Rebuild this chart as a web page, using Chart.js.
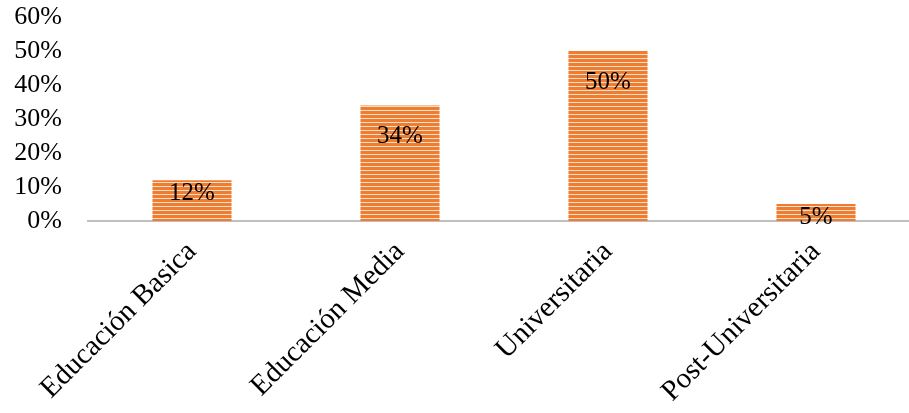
<!DOCTYPE html>
<html>
<head>
<meta charset="utf-8">
<script src="https://cdn.jsdelivr.net/npm/chart.js@4"></script>
<style>
    html, body { margin: 0; padding: 0; background: #fff; overflow: hidden; }
    #wrap { width: 920px; height: 413px; }
</style>
</head>
<body>
<div id="wrap"><canvas id="nivelChart"></canvas></div>
<script>
// datos del gráfico
const categorias = ['Educación Basica', 'Educación Media', 'Universitaria', 'Post-Universitaria'];
const porcentajes = [12, 34, 50, 5];
const ticksY = [0, 10, 20, 30, 40, 50, 60];

// patrón de rayas horizontales para las barras
function crearRayas() {
    const c = document.createElement('canvas');
    c.width = 4;
    c.height = 4;
    const g = c.getContext('2d');
    g.fillStyle = '#ED7D31';
    g.fillRect(0, 0, 4, 4);
    g.fillStyle = '#FBDCC6';
    g.fillRect(0, 2, 4, 1);
    return g.createPattern(c, 'repeat');
}

// etiquetas de datos dentro de la barra
const etiquetasPlugin = {
    id: 'etiquetas',
    afterDatasetsDraw(chart) {
        const ctx = chart.ctx;
        const meta = chart.getDatasetMeta(0);
        ctx.save();
        ctx.font = '25px "Liberation Serif", "Times New Roman", serif';
        ctx.fillStyle = '#000';
        ctx.textAlign = 'center';
        ctx.textBaseline = 'middle';
        meta.data.forEach(function(bar, i) {
            const alto = bar.base - bar.y;
            const desp = alto > 60 ? 31 : 13;
            ctx.fillText(porcentajes[i] + '%', bar.x, bar.y + desp);
        });
        ctx.restore();
    }
};

const serif = '"Liberation Serif", "Times New Roman", serif';

const ctx = document.getElementById('nivelChart').getContext('2d');
new Chart(ctx, {
    type: 'bar',
    data: {
        labels: categorias,
        datasets: [{
            data: porcentajes,
            backgroundColor: crearRayas(),
            borderWidth: 0,
            barPercentage: 0.38,
            categoryPercentage: 1
        }]
    },
    options: {
        responsive: true,
        maintainAspectRatio: false,
        animation: false,
        layout: { padding: 0 },
        plugins: {
            legend: { display: false },
            tooltip: { enabled: false }
        },
        scales: {
            x: {
                afterFit: function(axis) { axis.height = 192; },
                grid: { display: false, drawTicks: false },
                border: { display: true, color: '#BFBFBF', width: 2 },
                ticks: {
                    color: '#000',
                    font: { family: serif, size: 29 },
                    maxRotation: 45,
                    minRotation: 45,
                    padding: 14
                }
            },
            y: {
                min: 0,
                max: 60,
                afterBuildTicks: function(axis) {
                    axis.ticks = ticksY.map(function(v) { return { value: v }; });
                },
                afterFit: function(axis) {
                    axis.width = 88;
                    axis.paddingTop = 17;
                    axis.paddingBottom = 0;
                },
                grid: { display: false, drawTicks: false },
                border: { display: false },
                ticks: {
                    color: '#000',
                    font: { family: serif, size: 26 },
                    padding: 26,
                    autoSkip: false,
                    callback: function(v) { return v + '%'; }
                }
            }
        }
    },
    plugins: [etiquetasPlugin]
});
</script>
</body>
</html>
